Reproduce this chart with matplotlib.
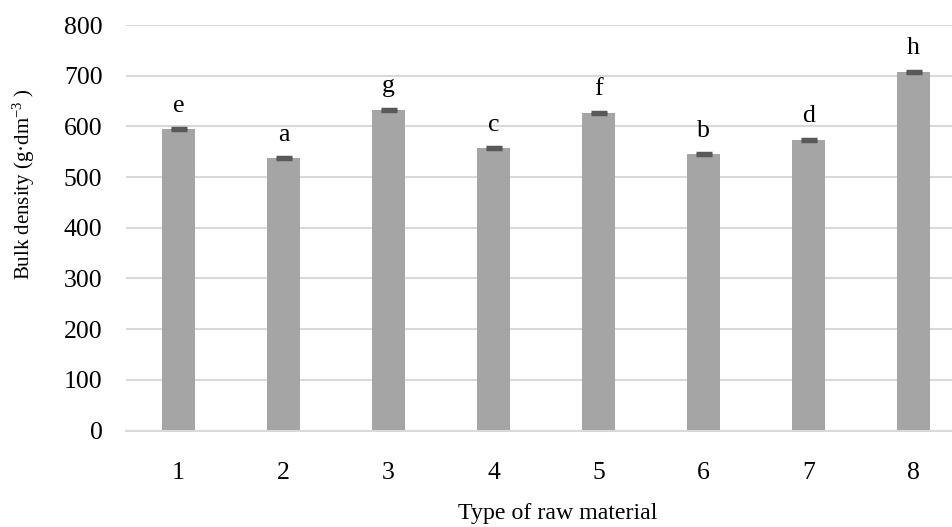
import matplotlib
matplotlib.use("Agg")
import matplotlib.pyplot as plt

categories = ["1", "2", "3", "4", "5", "6", "7", "8"]
values = [594, 538, 633, 557, 627, 546, 574, 708]
errors = [2, 2, 2, 2, 2, 2, 2, 2]
letters = ["e", "a", "g", "c", "f", "b", "d", "h"]
yticks = [0, 100, 200, 300, 400, 500, 600, 700, 800]

plt.rcParams['font.family'] = ['Liberation Serif', 'DejaVu Serif']
plt.rcParams['mathtext.fontset'] = 'custom'
plt.rcParams['mathtext.rm'] = 'Liberation Serif'
plt.rcParams['mathtext.it'] = 'Liberation Serif:italic'

W, H = 952, 527
fig = plt.figure(figsize=(W/100, H/100), dpi=100)
left, right, top, bottom = 126, 966, 25, 430.5
ax = fig.add_axes([left/W, (H-bottom)/H, (right-left)/W, (bottom-top)/H])

x = list(range(len(categories)))
ax.bar(x, values, width=0.314, color='#a5a5a5', zorder=2)
ax.errorbar(x, values, yerr=errors, fmt='none', ecolor='#595959',
            elinewidth=1.5, capsize=6, capthick=2.5, zorder=3)
for xi, v, l in zip(x, values, letters):
    ax.text(xi, v + 34, l, ha='center', va='baseline', fontsize=18.5, color='black')

ax.set_xlim(-0.5, 7.5)
ax.set_ylim(0, 800)
ax.set_yticks(yticks)
ax.set_xticks(x)
ax.set_xticklabels(categories)
ax.grid(axis='y', color='#d9d9d9', linewidth=1.5, zorder=0)
ax.set_axisbelow(True)
for s in ['top', 'right', 'left']:
    ax.spines[s].set_visible(False)
ax.spines['bottom'].set_color('#d9d9d9')
ax.spines['bottom'].set_linewidth(1.5)
ax.tick_params(axis='both', length=0, labelsize=18.5)
ax.tick_params(axis='y', pad=17)
ax.tick_params(axis='x', pad=23)

fig.text(558/W, 1 - 519/H, "Type of raw material", ha='center', va='baseline', fontsize=17.2)
fig.text(24/W, 1 - 184/H, r"Bulk density (g·dm$^{-3}$ )", ha='center', va='center',
         rotation=90, fontsize=15)

fig.savefig("out.png", dpi=100)
